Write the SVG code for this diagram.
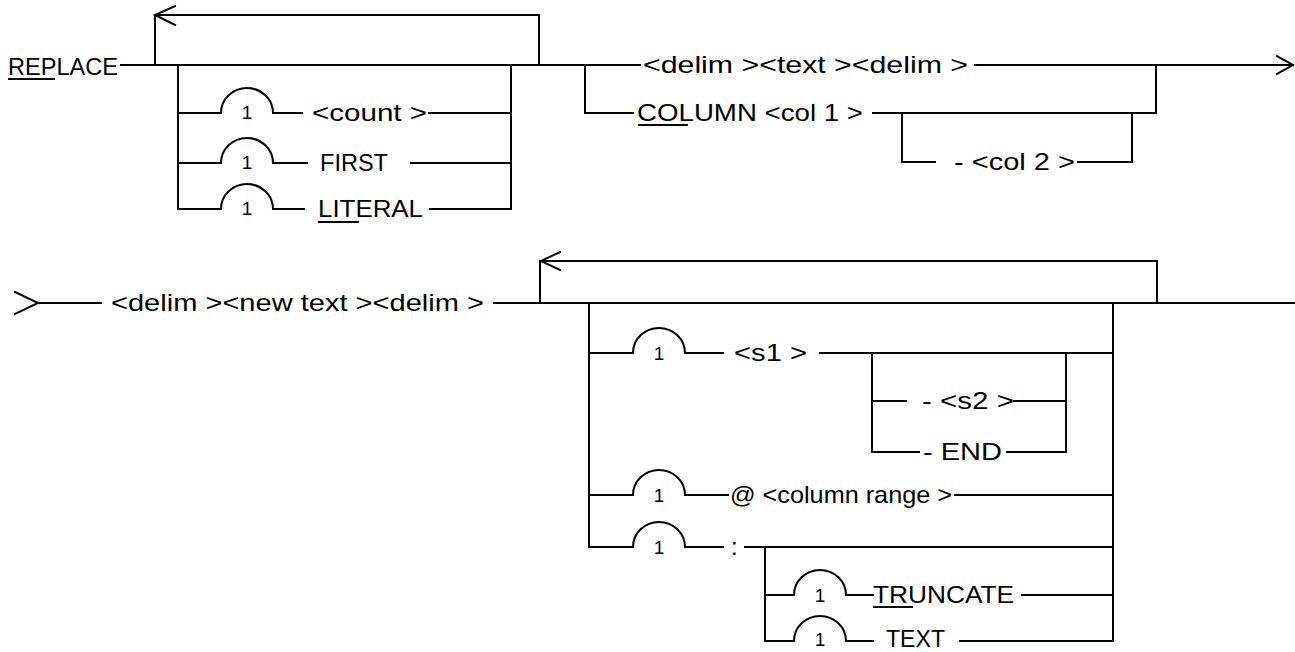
<svg xmlns="http://www.w3.org/2000/svg" width="1295" height="652" viewBox="0 0 1295 652">
<defs>
<style>
.ln{fill:none;stroke:#000;stroke-width:2;stroke-linecap:square}
.t{font-family:"Liberation Sans",Arial,sans-serif;font-size:24px;fill:#000}
.one{font-family:"Liberation Sans",Arial,sans-serif;font-size:19px;fill:#000;text-anchor:middle}
.ul{stroke:#000;stroke-width:2}
</style>
</defs>
<rect width="1295" height="652" fill="#fff"/>
<g id="connectors" class="ln">
<path d="M121,65 H640"/>
<path d="M155,65 V15 H539 V65"/>
<path d="M175,6 L155,15 L175,25"/>
<path d="M178,65 V209 M511,65 V209"/>
<path d="M178,113 H221 M273,113 H302 M429,113 H511"/>
<path d="M178,163 H221 M273,163 H307 M411,163 H511"/>
<path d="M178,209 H221 M273,209 H304 M430,209 H511"/>
<path d="M585,65 V113 H633"/>
<path d="M975,65 H1293"/>
<path d="M1277,56 L1293,65 L1277,74"/>
<path d="M873,113 H1156 V65"/>
<path d="M902,113 V162 H935 M1078,162 H1132 V113"/>
<path d="M15,292 L38,303 L15,314"/>
<path d="M38,303 H101"/>
<path d="M494,303 H1295"/>
<path d="M540,303 V261 H1157 V303"/>
<path d="M560,252 L541,261 L560,270"/>
<path d="M589,303 V547 M1113,303 V641"/>
<path d="M589,353 H633 M685,353 H723 M820,353 H1113"/>
<path d="M872,353 V452 M1066,353 V452"/>
<path d="M872,401 H906 M1014,401 H1066"/>
<path d="M872,452 H919 M1007,452 H1066"/>
<path d="M589,495 H633 M685,495 H728 M955,495 H1113"/>
<path d="M589,547 H633 M685,547 H723 M745,547 H1113"/>
<path d="M765,547 V641"/>
<path d="M765,595 H794 M846,595 H873 M1022,595 H1113"/>
<path d="M765,641 H794 M846,641 H873 M960,641 H1113"/>
</g>
<g id="replace"><text class="t" x="8" y="75" textLength="110" lengthAdjust="spacingAndGlyphs">REPLACE</text><line class="ul" x1="8" y1="79" x2="55" y2="79"/></g>
<g id="rep1"><path class="ln" d="M221,113 A26,25 0 0 1 273,113"/><text class="one" x="247" y="119">1</text></g>
<g id="count"><text class="t" x="312" y="121" textLength="115" lengthAdjust="spacingAndGlyphs">&lt;count &gt;</text></g>
<g id="rep2"><path class="ln" d="M221,163 A26,25 0 0 1 273,163"/><text class="one" x="247" y="169">1</text></g>
<g id="first"><text class="t" x="320" y="171" textLength="68" lengthAdjust="spacingAndGlyphs">FIRST</text></g>
<g id="rep3"><path class="ln" d="M221,209 A26,25 0 0 1 273,209"/><text class="one" x="247" y="215">1</text></g>
<g id="literal"><text class="t" x="318" y="217" textLength="105" lengthAdjust="spacingAndGlyphs">LITERAL</text><line class="ul" x1="318" y1="222" x2="359" y2="222"/></g>
<g id="delimtext"><text class="t" x="643" y="73" textLength="325" lengthAdjust="spacingAndGlyphs">&lt;delim &gt;&lt;text &gt;&lt;delim &gt;</text></g>
<g id="column"><text class="t" x="637" y="121" textLength="226" lengthAdjust="spacingAndGlyphs">COLUMN &lt;col 1 &gt;</text><line class="ul" x1="638" y1="125" x2="688" y2="125"/></g>
<g id="col2"><text class="t" x="954" y="170" textLength="121" lengthAdjust="spacingAndGlyphs">- &lt;col 2 &gt;</text></g>
<g id="newtext"><text class="t" x="111" y="311" textLength="373" lengthAdjust="spacingAndGlyphs">&lt;delim &gt;&lt;new text &gt;&lt;delim &gt;</text></g>
<g id="rep4"><path class="ln" d="M633,353 A26,25 0 0 1 685,353"/><text class="one" x="659" y="360">1</text></g>
<g id="s1"><text class="t" x="734" y="361" textLength="73" lengthAdjust="spacingAndGlyphs">&lt;s1 &gt;</text></g>
<g id="s2"><text class="t" x="922" y="409" textLength="92" lengthAdjust="spacingAndGlyphs">- &lt;s2 &gt;</text></g>
<g id="end"><text class="t" x="923" y="460" textLength="79" lengthAdjust="spacingAndGlyphs">- END</text></g>
<g id="rep5"><path class="ln" d="M633,495 A26,25 0 0 1 685,495"/><text class="one" x="659" y="502">1</text></g>
<g id="colrange"><text class="t" x="730" y="503" textLength="222" lengthAdjust="spacingAndGlyphs">@ &lt;column range &gt;</text></g>
<g id="rep6"><path class="ln" d="M633,547 A26,25 0 0 1 685,547"/><text class="one" x="659" y="554">1</text></g>
<g id="colon"><text class="t" x="731" y="555">:</text></g>
<g id="rep7"><path class="ln" d="M794,595 A26,25 0 0 1 846,595"/><text class="one" x="820" y="602">1</text></g>
<g id="truncate"><text class="t" x="873" y="603" textLength="141" lengthAdjust="spacingAndGlyphs">TRUNCATE</text><line class="ul" x1="873" y1="607" x2="913" y2="607"/></g>
<g id="rep8"><path class="ln" d="M794,641 A26,25 0 0 1 846,641"/><text class="one" x="820" y="646">1</text></g>
<g id="text"><text class="t" x="886" y="647" textLength="59" lengthAdjust="spacingAndGlyphs">TEXT</text></g>
</svg>
